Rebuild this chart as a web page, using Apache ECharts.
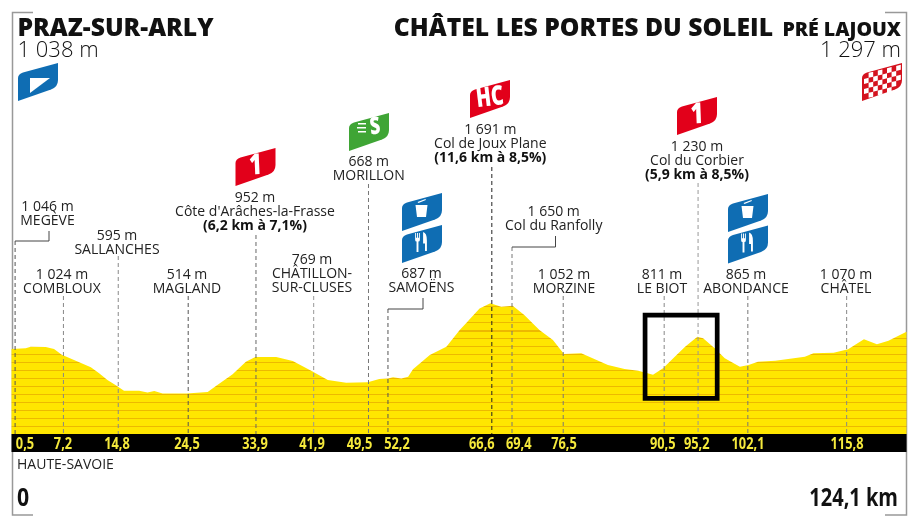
<!DOCTYPE html>
<html><head><meta charset="utf-8">
<style>html,body{margin:0;padding:0;background:#fff}#c{width:918px;height:526px}</style>
<script src="https://cdn.jsdelivr.net/npm/echarts@6/dist/echarts.min.js"></script>
</head><body><div id="c"></div>
<script>
// ---- data ----
const profileKm = [0,1.97,2.66,4.75,5.9,6.97,8.91,11.0,12.15,13.3,14.47,15.6,17.7,18.86,19.8,20.96,24.3,27.2,28.35,30.66,32.5,33.8,36.7,39.0,41.55,43.86,46.4,49.4,51.0,52.2,52.9,54.05,55.0,55.67,58.0,60.3,62.15,62.8,64.9,66.4,67.9,69.5,71.1,73.2,75.07,76.6,79.0,82.7,85.0,86.9,88.95,90.35,91.97,93.4,95.1,95.9,97.5,98.9,101.0,102.2,103.5,105.9,110.0,111.2,114.0,116.0,118.2,120.0,121.6,124.1];
const profileAlt = [1072,1081,1102,1098,1072,998,919,832,754,667,597,527,527,505,523,492,492,510,588,741,906,967,967,915,789,667,632,636,680,688,702,688,710,806,993,1102,1320,1386,1603,1669,1625,1638,1516,1320,1190,1007,1015,863,810,789,736,819,972,1102,1233,1211,1081,950,841,863,906,919,972,1015,1024,1068,1198,1133,1181,1298];
const stopKm = [0.5,7.2,14.8,24.5,33.9,41.9,49.5,52.2,66.6,69.4,76.5,90.5,95.2,102.1,115.8];
const stopKmLabel = ["0,5","7,2","14,8","24,5","33,9","41,9","49,5","52,2","66,6","69,4","76,5","90,5","95,2","102,1","115,8"];
const stopAlt = ["1 046 m","1 024 m","595 m","514 m","952 m","769 m","668 m","687 m","1 691 m","1 650 m","1 052 m","811 m","1 230 m","865 m","1 070 m"];
const stopName = ["MEGÈVE","COMBLOUX","SALLANCHES","MAGLAND","Côte d'Arâches-la-Frasse","CHÂTILLON-|SUR-CLUSES","MORILLON","SAMOËNS","Col de Joux Plane","Col du Ranfolly","MORZINE","LE BIOT","Col du Corbier","ABONDANCE","CHÂTEL"];
const stopClimb = ["","","","","(6,2 km à 7,1%)","","","","(11,6 km à 8,5%)","","","","(5,9 km à 8,5%)","",""];
const boxKm = [87.85,97.85];
const boxAlt = [426,1516];
const totalKm = 124.1;

// ---- layout (pixels) ----
const gridL = 11.5, gridR = 906.5, baseY = 434, altMin = -39, altMax = 5634;
const labelX = [47.5,62,117,187,255,312,368.7,421.5,490.3,553.7,564,662,697,746,846];
const labelY = [207,275,235.7,275,197.7,260,162,274,129.7,211.7,275,275,147,275,275];
const dashTop = [241,296,256,296,235,296,184,309,167,247,296,296,183,296,296];
const elbow = {0:[49,231],7:[423,298],9:[555.5,236]};
const dashColor = ['#555','#888','#888','#555','#666','#999','#777','#555','#222','#777','#777','#888','#999','#777','#888'];
const tickLabelX = [25,63,117,187,255,312,359.5,397,481.8,518.7,564,662.7,696.7,748,847];
const stripeFirst = 426.7, stripeStep = 8;

const yellowStops = [];
for (let y = stripeFirst; y > 290; y -= stripeStep) {
  const a = (y - 0.8) / 526, b = (y + 0.8) / 526;
  yellowStops.unshift({offset:a,color:'#FFE600'},{offset:a,color:'#EDB900'},{offset:b,color:'#EDB900'},{offset:b,color:'#FFE600'});
}
yellowStops.unshift({offset:0,color:'#FFE600'});
yellowStops.push({offset:1,color:'#FFE600'});

const FONT = '"Open Sans"';
const flagPath = 'M0 38 V15 Q0 11 5 9.5 L40 0 V17 Q40 24 33 26.5 Z';
function T(text,x,y,size,weight,align,fill,extra){
  return Object.assign({type:'text',silent:true,x:x,y:y,style:{text:text,fontFamily:FONT,fontSize:size,fontWeight:weight,fill:fill||'#111',textAlign:align||'left',textVerticalAlign:'middle'}},extra||{});
}
function flag(x,y,color,kids){
  return {type:'group',x:x,y:y,silent:true,children:[{type:'path',shape:{pathData:flagPath,x:0,y:0,width:40,height:38},style:{fill:color}}].concat(kids||[])};
}
function glyph(s,size,cx,cy,sx,rot){return {type:'text',x:cx,y:cy,rotation:rot===undefined?0.12:rot,scaleX:sx||1,style:{text:s,fontFamily:FONT,fontSize:size,fontWeight:800,fill:'#fff',textAlign:'center',textVerticalAlign:'middle'}};}
function white(d,x,y,w,h){return {type:'path',shape:{pathData:d,x:x,y:y,width:w,height:h},style:{fill:'#fff'}};}
const binIcon = [white('M1 6 H13 L11.5 18 H2.5 Z M3 3 L11 0 L11.4 1 L4 4 Z',13,6,13,18)];
const forkIcon = [white('M0 0 H1 V5 H2 V0 H3 V5 H4 V0 H5 V7 Q5 9 3.5 9 V20 H1.5 V9 Q0 9 0 7 Z',13,8,5,19),
                  white('M0 0 Q4 1 4 9 V20 H2 V12 H0 Z',21,7,4,19)];
const speedS = [glyph('S',24,26,14,0.75)].concat([[9,10,8],[8,14,9],[9,18,8]].map(s=>({type:'rect',shape:{x:s[0],y:s[1],width:s[2],height:1.5},style:{fill:'#fff'}})));
const checks = [];
for (let i=0;i<8;i++) for (let j=0;j<5;j++) if ((i+j)%2===1 && !(i===7&&j===4)) {
  const x=2+i*4.6, top=j*5+11.5-x*0.25;
  checks.push({type:'polygon',shape:{points:[[x,top],[x+4.6,top-1.15],[x+4.6,top+3.85],[x,top+5]]},style:{fill:'#fff'}});
}
const flags = [
  flag(18,63,'#0F6DB3',[{type:'polygon',shape:{points:[[12,15],[32,15],[12,30]]},style:{fill:'#fff'}}]),
  flag(862,63,'#D4121E',checks),
  flag(235.5,148,'#E2001A',[glyph('1',29,20,18,0.75,0.04)]),
  flag(349,113,'#3FA535',speedS),
  flag(402,193,'#0F6DB3',binIcon),
  flag(402,225,'#0F6DB3',forkIcon),
  flag(470,80,'#E2001A',[glyph('HC',27,20,18,0.72)]),
  flag(677,97,'#E2001A',[glyph('1',29,20,18,0.75,0.04)]),
  flag(728,194,'#0F6DB3',binIcon),
  flag(728,225.5,'#0F6DB3',forkIcon)
];

const frame = [
  {type:'polyline',silent:true,shape:{points:[[33,12.5],[12.5,12.5],[12.5,515],[33,515]]},style:{fill:'none',stroke:'#999',lineWidth:1.5}},
  {type:'polyline',silent:true,shape:{points:[[885,12.5],[906.5,12.5],[906.5,515],[885,515]]},style:{fill:'none',stroke:'#999',lineWidth:1.5}}
];

const chart = echarts.init(document.getElementById('c'),null,{renderer:'canvas'});
chart.setOption({
  animation:false,
  backgroundColor:'#fff',
  grid:{left:gridL,top:0,width:gridR-gridL,height:baseY},
  xAxis:{type:'value',min:0,max:totalKm,offset:9,
    splitLine:{show:false},axisTick:{show:false},axisLabel:{show:false},
    axisLine:{show:true,onZero:false,lineStyle:{color:'#000',width:18,cap:'butt'}}},
  yAxis:{type:'value',min:altMin,max:altMax,show:false,splitLine:{show:false}},
  series:[
    {type:'line',z:2,data:profileKm.map((k,i)=>[k,profileAlt[i]]),symbol:'none',smooth:false,silent:true,
      lineStyle:{width:0},
      areaStyle:{opacity:1,origin:'start',color:{type:'linear',x:0,y:0,x2:0,y2:526,global:true,colorStops:yellowStops}},
      markArea:{silent:true,z:6,itemStyle:{color:'rgba(0,0,0,0)',borderColor:'#000',borderWidth:4.7},
        data:[[{xAxis:boxKm[0],yAxis:boxAlt[0]},{xAxis:boxKm[1],yAxis:boxAlt[1]}]]}},
    {type:'custom',z:5,silent:true,clip:false,coordinateSystem:'cartesian2d',
      data:stopKm.map(k=>[k,altMin]),
      renderItem:function(p,api){
        const i=p.dataIndex, pt=api.coord([api.value(0),api.value(1)]);
        const lines=[stopAlt[i]].concat(stopName[i].split('|'));
        const kids=[{type:'line',shape:{x1:pt[0],y1:dashTop[i],x2:pt[0],y2:pt[1]},style:{stroke:dashColor[i],lineWidth:1,lineDash:[4,3]}}];
        lines.forEach((s,n)=>kids.push(T(s,labelX[i],labelY[i]+n*14,14,400,'center','#222')));
        if(stopClimb[i]) kids.push(T(stopClimb[i],labelX[i],labelY[i]+lines.length*14,14,700,'center','#111'));
        if(elbow[i]) kids.push({type:'polyline',shape:{points:[[elbow[i][0],elbow[i][1]],[elbow[i][0],dashTop[i]],[pt[0],dashTop[i]]]},style:{fill:'none',stroke:'#444',lineWidth:1}});
        kids.push(T(stopKmLabel[i],tickLabelX[i],444,16,700,'center','#F5E93C',{scaleX:0.8}));
        return {type:'group',children:kids};
      }},
    {type:'custom',z:7,silent:true,clip:false,coordinateSystem:'none',data:[[0]],
      renderItem:function(){return {type:'group',children:flags};}}
  ],
  graphic:{elements:[].concat(frame,[
    T('PRAZ-SUR-ARLY',17.5,29,24.7,800),
    T('1 038 m',17.5,50.5,22,300),
    T('CHÂTEL LES PORTES DU SOLEIL',773,29,24.7,800,'right'),
    T('PRÉ LAJOUX',901,30.5,19.6,800,'right'),
    T('1 297 m',901,50.5,22,300,'right'),
    T('HAUTE-SAVOIE',17,465,14,400,'left','#222'),
    T('0',17,499,25,700,'left','#111',{scaleX:0.85}),
    T('124,1 km',898,499,25,700,'right','#111',{scaleX:0.8})
  ])}
});
</script></body></html>
